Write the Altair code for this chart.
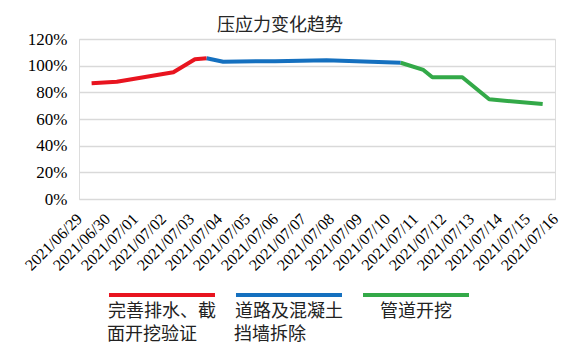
import json
import altair as alt
import pandas as pd

# ---- data ----
dates = ["2021/06/29", "2021/06/30", "2021/07/01", "2021/07/02", "2021/07/03",
         "2021/07/04", "2021/07/05", "2021/07/06", "2021/07/07", "2021/07/08",
         "2021/07/09", "2021/07/10", "2021/07/11", "2021/07/12", "2021/07/13",
         "2021/07/14", "2021/07/15", "2021/07/16"]

phases = ["完善排水、截面开挖验证", "道路及混凝土挡墙拆除", "管道开挖"]
phase_line1 = ["完善排水、截", "道路及混凝土", "管道开挖"]
phase_line2 = ["面开挖验证", "挡墙拆除", ""]
phase_colors = ["#E8141F", "#1570BF", "#33A948"]

# x = position in days after 2021/06/29 (fractional), y = ratio
red_day = [0.45, 1.35, 3.37, 4.14, 4.56]
red_val = [0.868, 0.880, 0.950, 1.048, 1.055]
blue_day = [4.56, 5.15, 7.0, 8.84, 11.49]
blue_val = [1.055, 1.030, 1.034, 1.040, 1.022]
green_day = [11.49, 12.30, 12.62, 13.69, 14.65, 16.56]
green_val = [1.022, 0.968, 0.913, 0.913, 0.748, 0.712]

y_ticks = [0, 0.2, 0.4, 0.6, 0.8, 1.0, 1.2]

rows = []
for name, ds, vs in zip(phases, [red_day, blue_day, green_day], [red_val, blue_val, green_val]):
    for d, v in zip(ds, vs):
        rows.append({"day": d, "value": v, "phase": name})
df = pd.DataFrame(rows)
leg = pd.DataFrame({"phase": phases, "line1": phase_line1, "line2": phase_line2})

color_scale = alt.Scale(domain=phases, range=phase_colors)

serif = "Liberation Serif"
cjk = "Noto Sans CJK SC"

label_expr = json.dumps(dates, ensure_ascii=False) + "[datum.value]"

lines = alt.Chart(df).mark_line(strokeWidth=4, strokeCap="butt", strokeJoin="round").encode(
    x=alt.X("day:Q",
            scale=alt.Scale(domain=[0, len(dates) - 1], nice=False, zero=False),
            axis=alt.Axis(values=list(range(len(dates))), labelExpr=label_expr,
                          grid=False, domain=False, ticks=False, labelAngle=315,
                          labelAlign="right", labelBaseline="middle", labelPadding=17,
                          labelFont=serif, labelFontSize=16, labelColor="#000000",
                          labelOverlap=False, labelBound=False, labelFlush=False,
                          title=None)),
    y=alt.Y("value:Q",
            scale=alt.Scale(domain=[0, 1.2], nice=False, zero=True),
            axis=alt.Axis(values=y_ticks, format=".0%", grid=True, gridColor="#D9D9D9",
                          gridWidth=1.3, domain=False, ticks=False, labelPadding=12,
                          labelFont=serif, labelFontSize=17, labelColor="#000000",
                          title=None)),
    color=alt.Color("phase:N", scale=color_scale, legend=None),
    detail="phase:N",
)


def band():
    return alt.Scale(type="band", domain=phases, paddingInner=0.1654,
                     paddingOuter=0.4567, align=0.2586)


leg_bars = alt.Chart(leg).mark_bar().encode(
    x=alt.X("phase:N", scale=band(), axis=None, sort=phases),
    y=alt.value(254),
    y2=alt.value(258),
    color=alt.Color("phase:N", scale=color_scale, legend=None),
)

leg_text1 = alt.Chart(leg).mark_text(
    font=cjk, fontSize=18, align="center", baseline="top", color="#222222"
).encode(
    x=alt.X("phase:N", scale=band(), axis=None, sort=phases, bandPosition=0.5),
    y=alt.value(264),
    text="line1:N",
)

leg_text2 = alt.Chart(leg).mark_text(
    font=cjk, fontSize=18, align="left", baseline="top", color="#222222", dx=-2
).encode(
    x=alt.X("phase:N", scale=band(), axis=None, sort=phases, bandPosition=0),
    y=alt.value(287),
    text="line2:N",
)

chart = alt.layer(lines, leg_bars, leg_text1, leg_text2).resolve_scale(x="independent").properties(
    width=476,
    height=160,
    title=alt.TitleParams("压应力变化趋势", font=cjk, fontSize=18, fontWeight="normal",
                          color="#262626", anchor="middle", frame="group",
                          baseline="alphabetic", offset=-19, dx=-37),
    autosize=alt.AutoSizeParams(type="none"),
    padding={"left": 79, "top": 39, "right": 21, "bottom": 153},
).configure_view(strokeWidth=0).configure(background="white")

chart.save("out.html", embed_options={"renderer": "svg", "actions": False})
